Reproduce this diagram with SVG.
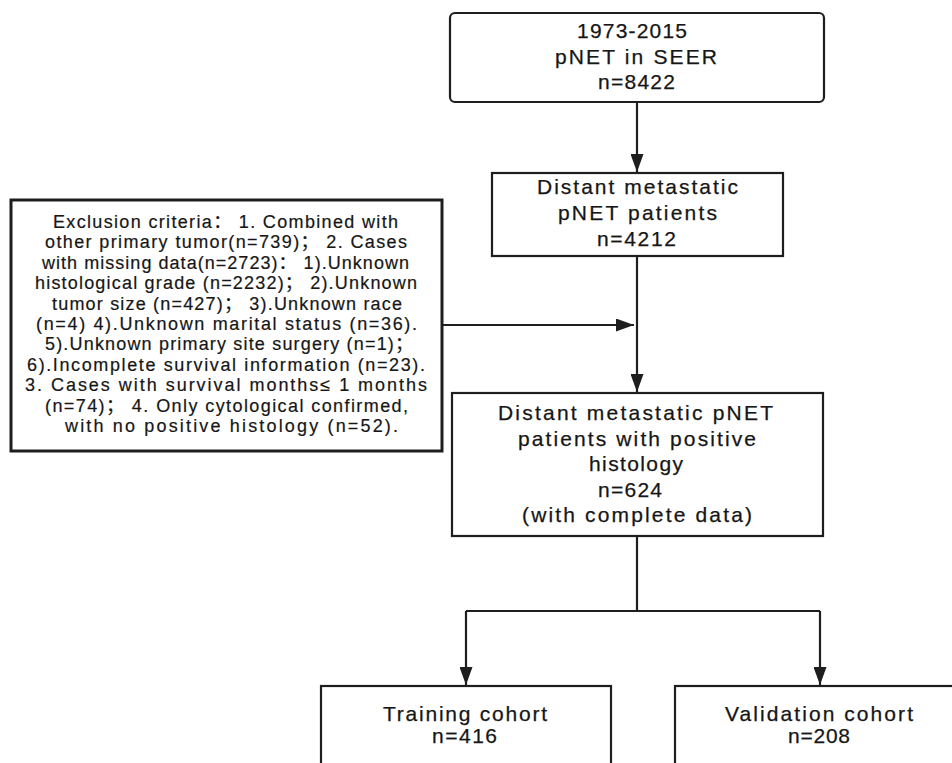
<svg xmlns="http://www.w3.org/2000/svg" width="952" height="763" viewBox="0 0 952 763">
<defs>
<style>
.box{fill:#fff;stroke:#1e1e1e;stroke-width:2.2}
.thick{stroke-width:3}
.t{font-family:"Liberation Sans","Noto Sans CJK SC",Arial,sans-serif;font-size:21px;fill:#161616;stroke:#161616;stroke-width:0.25}
.s{font-family:"Liberation Sans","Noto Sans CJK SC",Arial,sans-serif;font-size:18px;fill:#161616;stroke:#161616;stroke-width:0.2}
.c{fill:none;stroke:#1e1e1e;stroke-width:2.2}
</style>
<marker id="ah" viewBox="0 0 18 13" refX="18" refY="6.5" markerWidth="18" markerHeight="13" markerUnits="userSpaceOnUse" orient="auto">
<path d="M0,0 L18,6.5 L0,13 z" fill="#1e1e1e"/>
</marker>
</defs>
<rect width="952" height="763" fill="#fff"/>

<g id="connectors">
<path class="c" d="M637,103 V172" marker-end="url(#ah)"/>
<path class="c" d="M637,257 V392" marker-end="url(#ah)"/>
<path class="c" d="M443,325 H634" marker-end="url(#ah)"/>
<path class="c" d="M637,537 V611 M466,611 H820"/>
<path class="c" d="M466,611 V685" marker-end="url(#ah)"/>
<path class="c" d="M820,611 V685" marker-end="url(#ah)"/>
</g>

<g id="n_seer">
<rect class="box" x="450" y="13" width="374" height="89" rx="5"/>
<text class="t" x="577" y="38" textLength="110" lengthAdjust="spacing">1973-2015</text>
<text class="t" x="555" y="64" textLength="162" lengthAdjust="spacing">pNET in SEER</text>
<text class="t" x="598" y="89" textLength="77" lengthAdjust="spacing">n=8422</text>
</g>

<g id="n_distant">
<rect class="box" x="492" y="173" width="291" height="83"/>
<text class="t" x="537" y="194" textLength="201" lengthAdjust="spacing">Distant metastatic</text>
<text class="t" x="558" y="220" textLength="159" lengthAdjust="spacing">pNET patients</text>
<text class="t" x="597" y="246" textLength="79" lengthAdjust="spacing">n=4212</text>
</g>

<g id="n_exclusion">
<rect class="box thick" x="11" y="200" width="431" height="251"/>
<text class="s" x="53" y="228" textLength="345" lengthAdjust="spacing">Exclusion criteria： 1. Combined with</text>
<text class="s" x="45" y="248.4" textLength="362" lengthAdjust="spacing">other primary tumor(n=739)； 2. Cases</text>
<text class="s" x="42" y="268.8" textLength="367" lengthAdjust="spacing">with missing data(n=2723)： 1).Unknown</text>
<text class="s" x="35" y="289.2" textLength="382" lengthAdjust="spacing">histological grade (n=2232)； 2).Unknown</text>
<text class="s" x="52" y="309.6" textLength="350" lengthAdjust="spacing">tumor size (n=427)； 3).Unknown race</text>
<text class="s" x="36" y="330" textLength="381" lengthAdjust="spacing">(n=4) 4).Unknown marital status (n=36).</text>
<text class="s" x="45" y="350.4" textLength="368" lengthAdjust="spacing">5).Unknown primary site surgery (n=1)；</text>
<text class="s" x="27" y="370.8" textLength="398" lengthAdjust="spacing">6).Incomplete survival information (n=23).</text>
<text class="s" x="25" y="391.2" textLength="402" lengthAdjust="spacing">3. Cases with survival months≤ 1 months</text>
<text class="s" x="45" y="411.6" textLength="363" lengthAdjust="spacing">(n=74)； 4. Only cytological confirmed,</text>
<text class="s" x="65" y="432" textLength="333" lengthAdjust="spacing">with no positive histology (n=52).</text>
</g>

<g id="n_positive">
<rect class="box" x="452" y="393" width="371" height="143"/>
<text class="t" x="498" y="420" textLength="275" lengthAdjust="spacing">Distant metastatic pNET</text>
<text class="t" x="518" y="445.5" textLength="238" lengthAdjust="spacing">patients with positive</text>
<text class="t" x="589" y="471" textLength="94" lengthAdjust="spacing">histology</text>
<text class="t" x="598" y="496.5" textLength="64" lengthAdjust="spacing">n=624</text>
<text class="t" x="522" y="522" textLength="230" lengthAdjust="spacing">(with complete data)</text>
</g>

<g id="n_training">
<rect class="box" x="321" y="686" width="290" height="100"/>
<text class="t" x="383" y="721" textLength="164" lengthAdjust="spacing">Training cohort</text>
<text class="t" x="432" y="743" textLength="65" lengthAdjust="spacing">n=416</text>
</g>

<g id="n_validation">
<rect class="box" x="675" y="686" width="300" height="100"/>
<text class="t" x="725" y="721" textLength="188" lengthAdjust="spacing">Validation cohort</text>
<text class="t" x="788" y="743" textLength="62" lengthAdjust="spacing">n=208</text>
</g>
</svg>
